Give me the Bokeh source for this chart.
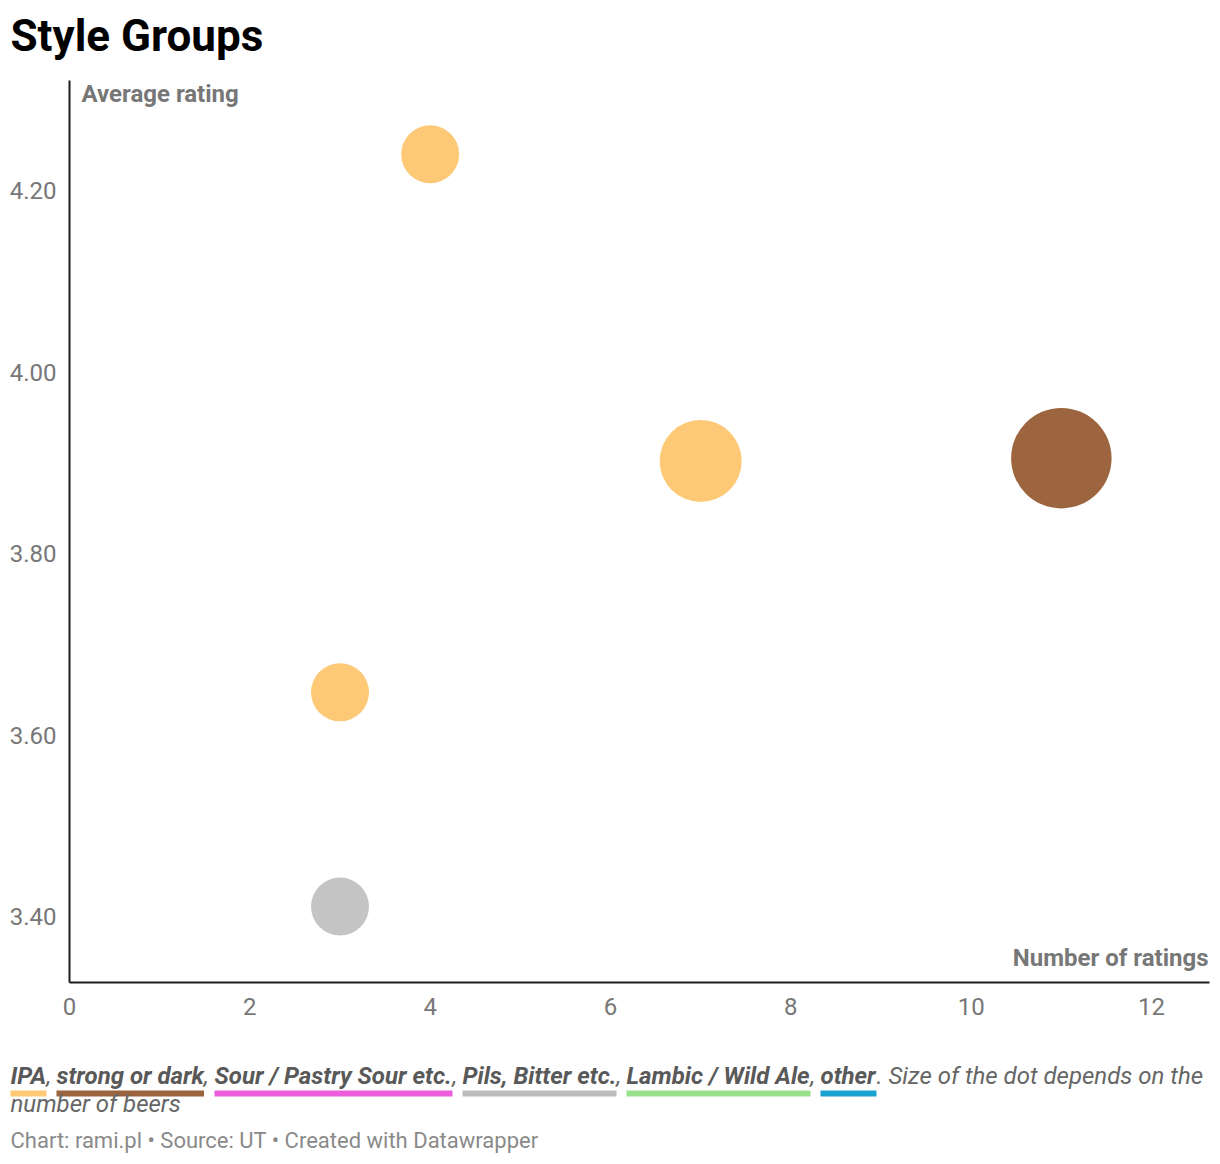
import math
from bokeh.plotting import figure
from bokeh.models import Range1d, FixedTicker, PrintfTickFormatter, Label
from bokeh.core.properties import value
from bokeh.embed import file_html
from bokeh.resources import INLINE

# ---------------- data ----------------
styles = ["IPA", "IPA", "strong or dark", "IPA", "Pils, Bitter etc."]
num_ratings = [4, 7, 11, 3, 3]
avg_rating = [4.24, 3.902, 3.905, 3.647, 3.411]
num_beers = [1, 2, 3, 1, 1]

legend_labels = ["IPA", "strong or dark", "Sour / Pastry Sour etc.",
                 "Pils, Bitter etc.", "Lambic / Wild Ale", "other"]
legend_colors = ["#ffc975", "#9c643e", "#eb5fdc", "#bdbdbd", "#9be08a", "#1aa3d1"]
dot_colors = {"IPA": "#fec976", "strong or dark": "#9c653f",
              "Sour / Pastry Sour etc.": "#eb5fdc", "Pils, Bitter etc.": "#c4c4c4",
              "Lambic / Wild Ale": "#9be08a", "other": "#1aa3d1"}

x_ticks = [0, 2, 4, 6, 8, 10, 12]
y_ticks = [3.40, 3.60, 3.80, 4.00, 4.20]

title_text = "Style Groups"
y_label = "Average rating"
x_label = "Number of ratings"
desc_rest = ". Size of the dot depends on the"
desc_line2 = "number of beers"
footer_text = "Chart: rami.pl \u2022 Source: UT \u2022 Created with Datawrapper"

# ---------------- layout constants (page px) ----------------
W = 1212
FONT = "Roboto"
HEAD_H = 80            # page 0..80
MAIN_H = 952           # page 80..1032 (frame 80..982)
FOOT_H = 124           # page 1032..1156
FRAME_TOP, FRAME_BOTTOM, FRAME_LEFT = 80, 982, 69
leg_x0 = [10, 56, 214, 462, 626, 820]
leg_x1 = [46, 203.5, 452, 616, 810, 876]


def blank_fig(h, y_top, y_bottom):
    f = figure(width=W, height=h, x_range=Range1d(0, W), y_range=Range1d(y_bottom, y_top),
               output_backend="svg", toolbar_location=None, title=None,
               x_axis_type=None, y_axis_type=None,
               min_border_left=0, min_border_right=0, min_border_top=0, min_border_bottom=0)
    f.grid.visible = False
    f.outline_line_color = None
    f.background_fill_color = "white"
    f.border_fill_color = "white"
    return f


def txt(f, xs, ys, texts, size, style="normal", color="#666666"):
    f.text(x=xs, y=ys, text=texts, text_font=value(FONT), text_font_size=size,
           text_font_style=style, text_color=color, text_baseline="alphabetic",
           text_align="left")


# ---------------- title ----------------
head = blank_fig(HEAD_H, 0, HEAD_H)
txt(head, [10], [35], [title_text], "44px", "bold", "#000000")

# ---------------- main chart ----------------
p = figure(width=W, height=MAIN_H, x_range=Range1d(0, 12.643), y_range=Range1d(3.3273, 4.3212),
           output_backend="svg", toolbar_location=None, title=None,
           min_border_left=FRAME_LEFT, min_border_right=3, min_border_top=0,
           min_border_bottom=MAIN_H - (FRAME_BOTTOM - FRAME_TOP))
p.grid.visible = False
p.outline_line_color = None
p.background_fill_color = "white"
p.border_fill_color = "white"

p.scatter(x=num_ratings, y=avg_rating, size=[58 * math.sqrt(n) for n in num_beers],
          fill_color=[dot_colors[s] for s in styles], line_color=None)

for ax in (p.xaxis[0], p.yaxis[0]):
    ax.axis_line_color = "#1d1d1d"
    ax.axis_line_width = 2
    ax.major_tick_line_color = None
    ax.minor_tick_line_color = None
    ax.major_label_text_font = FONT
    ax.major_label_text_font_size = "24px"
    ax.major_label_text_color = "#777777"

p.xaxis[0].ticker = FixedTicker(ticks=x_ticks)
p.yaxis[0].ticker = FixedTicker(ticks=y_ticks)
p.yaxis[0].formatter = PrintfTickFormatter(format="%.2f")
p.xaxis[0].major_label_standoff = 9
p.yaxis[0].major_label_standoff = 7

p.add_layout(Label(x=81 - FRAME_LEFT, y=FRAME_BOTTOM - 93, x_units="screen", y_units="screen",
                   text=y_label, text_font=FONT, text_font_size="24px", text_font_style="bold",
                   text_color="#777777", text_baseline="alphabetic", text_align="left"))
p.add_layout(Label(x=1208 - FRAME_LEFT, y=FRAME_BOTTOM - 957, x_units="screen", y_units="screen",
                   text=x_label, text_font=FONT, text_font_size="24px", text_font_style="bold",
                   text_color="#777777", text_baseline="alphabetic", text_align="right"))

# ---------------- legend description / footer ----------------
top0 = MAIN_H + HEAD_H
foot = blank_fig(FOOT_H, top0, top0 + FOOT_H)
foot.quad(left=leg_x0, right=leg_x1, top=[1090] * 6, bottom=[1096] * 6,
          fill_color=legend_colors, line_color=None)
txt(foot, leg_x0, [1075] * 6, legend_labels, "24px", "bold italic", "#595959")
txt(foot, leg_x1[:-1], [1075] * 5, [","] * 5, "24px", "italic", "#666666")
txt(foot, [leg_x1[-1]], [1075], [desc_rest], "24px", "italic", "#666666")
txt(foot, [10], [1103], [desc_line2], "24px", "italic", "#666666")
txt(foot, [10], [1140], [footer_text], "22px", "normal", "#8a8a8a")

open("out.html", "w").write(file_html([head, p, foot], INLINE))
